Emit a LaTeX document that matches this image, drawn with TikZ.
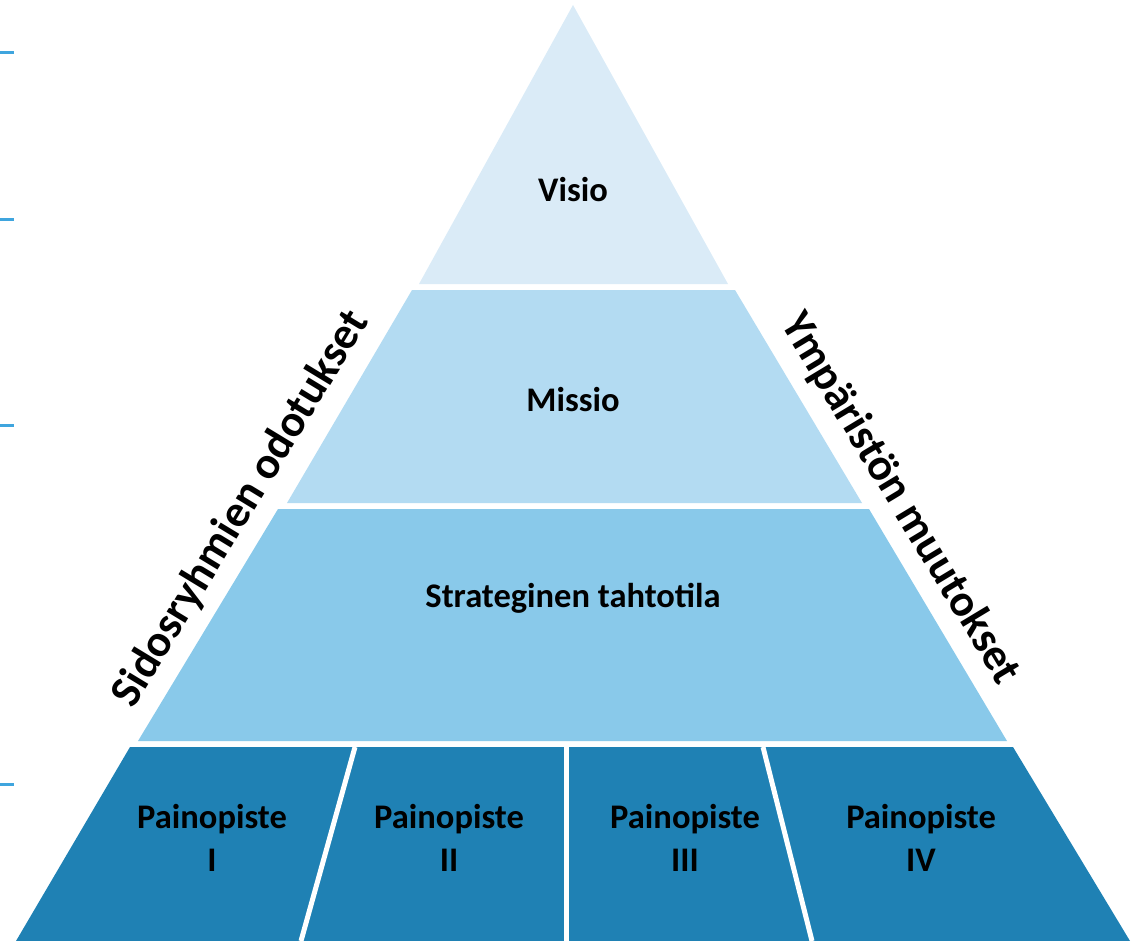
\documentclass[tikz,border=0pt]{standalone}
\usepackage{fontspec}
\setmainfont{Carlito}

\definecolor{visiofill}{HTML}{DAEBF7}
\definecolor{missiofill}{HTML}{B3DBF2}
\definecolor{tahtofill}{HTML}{89C9EA}
\definecolor{painofill}{HTML}{1F81B4}
\definecolor{tickblue}{HTML}{3FA5DE}

\tikzset{
    lbl/.style={font=\fontsize{34.5}{43}\selectfont\bfseries, align=center, inner sep=0pt},
    sidelbl/.style={font=\fontsize{45}{52}\selectfont\bfseries, inner sep=0pt},
    divider/.style={white, line width=5pt},
    tickmark/.style={tickblue, line width=3pt}
}

\begin{document}
\begin{tikzpicture}[x=1pt,y=-1pt]
        \useasboundingbox (0,0) rectangle (1137,941);
        % ticks on the left
        \draw[tickmark](0,53)--(14,53);
        \draw[tickmark](0,220)--(14,220);
        \draw[tickmark](0,425)--(14,425);
        \draw[tickmark](0,784)--(14,784);
        % pyramid bands
        \fill[visiofill](573,5)--(728,284)--(419,284)--cycle;
        \fill[missiofill](412,290)--(735,290)--(862,503)--(287,503)--cycle;
        \fill[tahtofill](278,509)--(869,509)--(1007,741)--(138,741)--cycle;
        \fill[painofill](130,747)--(1013,747)--(1130,941)--(16,941)--cycle;
        \draw[divider](355,747)--(301,941);
        \draw[divider](566,747)--(566,941);
        \draw[divider](763,747)--(812,941);
        % labels
        \node[lbl] (visio) at (573,190) {Visio};
        \node[lbl] (missio) at (573,400) {Missio};
        \node[lbl] (tahtotila) at (573,598) {Strateginen tahtotila};
        \node[lbl] (paino1) at (212,838) {Painopiste\\I};
        \node[lbl] (paino2) at (449,838) {Painopiste\\II};
        \node[lbl] (paino3) at (685,838) {Painopiste\\III};
        \node[lbl] (paino4) at (921,838) {Painopiste\\IV};
        \node[sidelbl, rotate=58.7] (sidos) at (241,509) {Sidosryhmien odotukset};
        \node[sidelbl, rotate=-58.9] (ymparisto) at (900,499) {Ympäristön muutokset};
\end{tikzpicture}
\end{document}
